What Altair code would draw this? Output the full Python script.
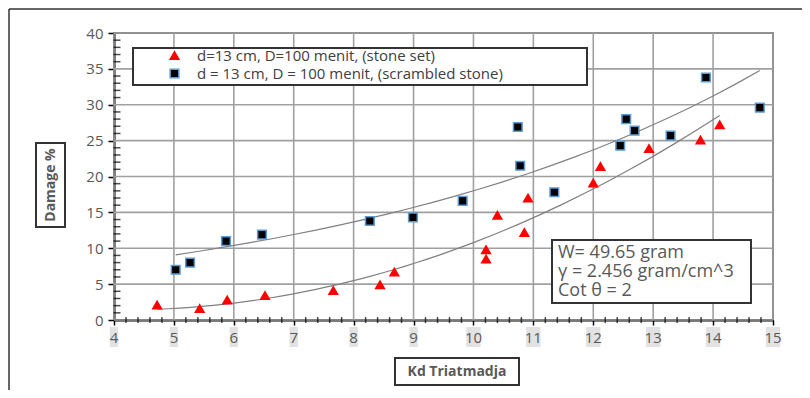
import altair as alt
import pandas as pd

set_name = "d=13 cm, D=100 menit, (stone set)"
scr_name = "d = 13 cm, D = 100 menit, (scrambled stone)"

set_x = [4.72, 5.43, 5.89, 6.52, 7.66, 8.44, 8.68, 10.21, 10.21, 10.40, 10.85, 10.91, 12.00, 12.12, 12.93, 13.79, 14.11]
set_y = [2.1, 1.6, 2.8, 3.4, 4.1, 4.9, 6.7, 9.8, 8.5, 14.6, 12.2, 17.0, 19.1, 21.4, 23.9, 25.1, 27.2]
scr_x = [5.03, 5.27, 5.87, 6.47, 8.27, 8.99, 9.82, 10.74, 10.78, 11.35, 12.45, 12.55, 12.69, 13.29, 13.88, 14.78]
scr_y = [7.0, 8.0, 11.0, 11.9, 13.8, 14.3, 16.6, 26.9, 21.5, 17.8, 24.3, 28.0, 26.4, 25.7, 33.8, 29.6]

x_ticks = [4, 5, 6, 7, 8, 9, 10, 11, 12, 13, 14, 15]
y_ticks = [0, 5, 10, 15, 20, 25, 30, 35, 40]
x_minor = [v / 5 for v in range(20, 76) if v % 5]
y_minor = [v for v in range(0, 41) if v % 5]

note_lines = ["W= 49.65 gram", "γ = 2.456 gram/cm^3", "Cot θ = 2"]
x_title = "Kd Triatmadja"
y_title = "Damage %"

W, H = 659, 287
FONT = "Open Sans"
GRAY = "#595959"
GRID = "#a0a0a0"
XLO, XHI, YLO, YHI = 4, 15, 0, 40

df = pd.concat([
    pd.DataFrame({"x": set_x, "y": set_y, "series": set_name}),
    pd.DataFrame({"x": scr_x, "y": scr_y, "series": scr_name}),
], ignore_index=True)

# grid lines as two-point polylines built from the tick lists
grid_rows = []
for v in x_ticks:
    grid_rows.append({"gid": f"x{v}", "x": v, "y": YLO})
    grid_rows.append({"gid": f"x{v}", "x": v, "y": YHI})
for v in y_ticks:
    grid_rows.append({"gid": f"y{v}", "x": XLO, "y": v})
    grid_rows.append({"gid": f"y{v}", "x": XHI, "y": v})
griddf = pd.DataFrame(grid_rows)

xs = alt.Scale(domain=[XLO, XHI], nice=False, zero=False)
ys = alt.Scale(domain=[YLO, YHI], nice=False, zero=False)
dom = [set_name, scr_name]

xax = alt.Axis(values=x_ticks, labels=False, title=None, tickSize=5, tickWidth=1.5, tickColor="black",
               domainColor="black", domainWidth=2, grid=False)
yax = alt.Axis(values=y_ticks, title=None, tickSize=6, tickWidth=1.5, tickColor="black",
               domainColor="black", domainWidth=2, labelFont=FONT, labelFontSize=15, labelColor=GRAY,
               labelPadding=5, grid=False)

leg = alt.Legend(title=None, orient="none", legendX=53, legendY=15, padding=0,
                 labelFont=FONT, labelFontSize=15, labelColor="#404040", labelOffset=15, labelLimit=0,
                 rowPadding=2, symbolSize=75, symbolStrokeWidth=1.5, symbolOpacity=1)

one = pd.DataFrame({"k": [0]})

frame_l = alt.Chart(one).mark_rule(color="#333333", strokeWidth=1.5).encode(
    x=alt.value(-105), y=alt.value(-24), y2=alt.value(400))
frame_t = alt.Chart(one).mark_rule(color="#333333", strokeWidth=1.5).encode(
    x=alt.value(-105), x2=alt.value(720), y=alt.value(-24))

grid = alt.Chart(griddf).mark_line(color=GRID, strokeWidth=1.6).encode(
    x=alt.X("x:Q", scale=xs, axis=xax), y=alt.Y("y:Q", scale=ys, axis=yax), detail="gid:N")

pts = alt.Chart(df).mark_point(filled=True, size=75, strokeWidth=1.5, opacity=1).encode(
    x=alt.X("x:Q", scale=xs, axis=xax),
    y=alt.Y("y:Q", scale=ys, axis=yax),
    color=alt.Color("series:N", scale=alt.Scale(domain=dom, range=["#ff0000", "#000000"]), legend=leg),
    shape=alt.Shape("series:N", scale=alt.Scale(domain=dom, range=["triangle-up", "square"]), legend=leg),
    stroke=alt.Stroke("series:N", scale=alt.Scale(domain=dom, range=["#ff0000", "#5b9bd5"]), legend=leg),
)

trend_set = alt.Chart(df).transform_filter(alt.datum.series == set_name).transform_regression(
    "x", "y", method="poly", order=2
).mark_line(color="#808080", strokeWidth=1.2).encode(
    x=alt.X("x:Q", scale=xs, axis=xax), y=alt.Y("y:Q", scale=ys, axis=yax))
trend_scr = alt.Chart(df).transform_filter(alt.datum.series == scr_name).transform_regression(
    "x", "y", method="exp"
).mark_line(color="#808080", strokeWidth=1.2).encode(
    x=alt.X("x:Q", scale=xs, axis=xax), y=alt.Y("y:Q", scale=ys, axis=yax))

ymin = alt.Chart(pd.DataFrame({"v": y_minor})).mark_tick(orient="horizontal", size=7, thickness=1.5, color="black").encode(
    y=alt.Y("v:Q", scale=ys, axis=yax), x=alt.value(3))
xmin = alt.Chart(pd.DataFrame({"v": x_minor})).mark_tick(orient="vertical", size=6, thickness=1.5, color="black").encode(
    x=alt.X("v:Q", scale=xs, axis=xax), y=alt.value(H))

tickdf = pd.DataFrame({"v": x_ticks})
lblbg = alt.Chart(tickdf).transform_calculate(
    lo="datum.v - (datum.v >= 10 ? 0.12 : 0.07)", hi="datum.v + (datum.v >= 10 ? 0.12 : 0.07)"
).mark_rect(color="#e2e2e2").encode(
    x=alt.X("lo:Q", scale=xs, axis=xax), x2="hi:Q", y=alt.value(294), y2=alt.value(314))
lbl = alt.Chart(tickdf).mark_text(font=FONT, fontSize=15, color=GRAY, baseline="middle").encode(
    x=alt.X("v:Q", scale=xs, axis=xax), y=alt.value(305), text="v:Q")

legbox = alt.Chart(one).mark_rect(fill="white", stroke="#333333", strokeWidth=2).encode(
    x=alt.value(19), x2=alt.value(473), y=alt.value(15), y2=alt.value(52))

notebox = alt.Chart(one).mark_rect(fill="white", stroke="#333333", strokeWidth=2).encode(
    x=alt.value(438), x2=alt.value(637), y=alt.value(207), y2=alt.value(270))
note = alt.Chart(one).mark_text(font=FONT, fontSize=18, color=GRAY, align="left", baseline="middle",
                                lineHeight=19).encode(
    x=alt.value(444), y=alt.value(220), text=alt.value(note_lines))

xtb = alt.Chart(one).mark_rect(fill="white", stroke="#333333", strokeWidth=2).encode(
    x=alt.value(281), x2=alt.value(405), y=alt.value(325), y2=alt.value(352))
xt = alt.Chart(one).mark_text(font=FONT, fontSize=14, fontWeight="bold", color=GRAY, baseline="middle").encode(
    x=alt.value(343), y=alt.value(339), text=alt.value(x_title))

ytb = alt.Chart(one).mark_rect(fill="white", stroke="#333333", strokeWidth=2).encode(
    x=alt.value(-78), x2=alt.value(-49), y=alt.value(110), y2=alt.value(194))
yt = alt.Chart(one).mark_text(font=FONT, fontSize=14, fontWeight="bold", color=GRAY, baseline="middle",
                              angle=270).encode(
    x=alt.value(-63), y=alt.value(152), text=alt.value(y_title))

chart = alt.layer(
    frame_l, frame_t, grid, trend_set, trend_scr, legbox, notebox, note, pts, ymin, xmin,
    lblbg, lbl, xtb, xt, ytb, yt
).properties(
    width=W, height=H,
    autosize=alt.AutoSizeParams(type="none"),
    padding={"left": 106, "top": 25, "right": 29, "bottom": 70},
    background="white",
).configure_view(stroke="#333333", strokeWidth=1.5)

chart.save("out.html", embed_options={"renderer": "svg", "actions": False})
